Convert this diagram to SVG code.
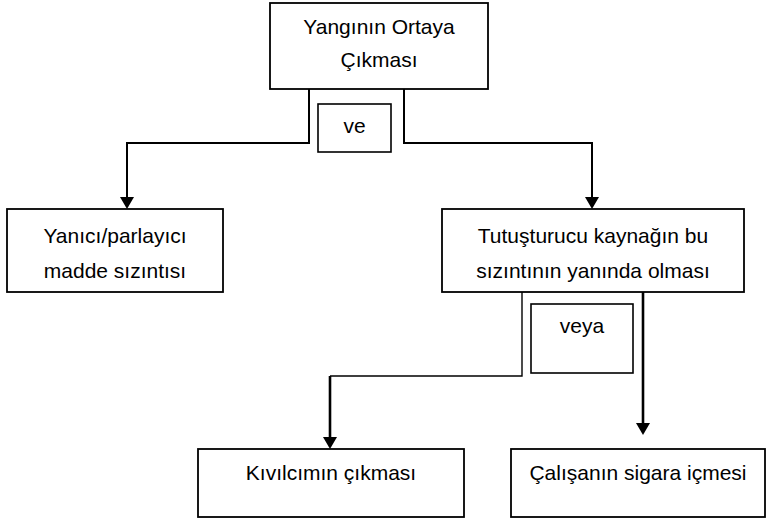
<svg xmlns="http://www.w3.org/2000/svg" width="767" height="519" viewBox="0 0 767 519">
<style>
.box{fill:#fff;stroke:#000;stroke-width:1.8}
.lbl{fill:#fff;stroke:#000;stroke-width:1.6}
.t{font-family:"Liberation Sans",Arial,sans-serif;font-size:21px;fill:#000;text-anchor:middle}
.c{fill:none;stroke:#000;stroke-width:2}
.thin{fill:none;stroke:#000;stroke-width:1.4}
.thick{fill:none;stroke:#000;stroke-width:2.6}
</style>
<defs>
<marker id="arr" viewBox="0 0 12 14" refX="6" refY="7" markerWidth="12" markerHeight="14" markerUnits="userSpaceOnUse" orient="auto">
<path d="M0,0 L12,7 L0,14 z" fill="#000"/>
</marker>
</defs>
<g id="connectors">
<path class="c" d="M309,89 V143 H127 V203" marker-end="url(#arr)"/>
<path class="c" d="M404,89 V143 H592 V203" marker-end="url(#arr)"/>
<path class="thin" d="M522,292 V376 H330"/>
<path class="thick" d="M330,376 V443" marker-end="url(#arr)"/>
<path class="thick" d="M643,292 V429" marker-end="url(#arr)"/>
</g>
<g id="n-top">
<rect class="box" x="270" y="3" width="218" height="86"/>
<text class="t" x="379" y="34">Yangının Ortaya</text>
<text class="t" x="379" y="67">Çıkması</text>
</g>
<g id="n-ve">
<rect class="lbl" x="318" y="104" width="73" height="48"/>
<text class="t" x="354.5" y="133">ve</text>
</g>
<g id="n-yanici">
<rect class="box" x="7" y="209" width="216" height="83"/>
<text class="t" x="115" y="243">Yanıcı/parlayıcı</text>
<text class="t" x="115" y="278">madde sızıntısı</text>
</g>
<g id="n-tutusturucu">
<rect class="box" x="442" y="209" width="302" height="83"/>
<text class="t" x="593" y="243">Tutuşturucu kaynağın bu</text>
<text class="t" x="593" y="278">sızıntının yanında olması</text>
</g>
<g id="n-veya">
<rect class="lbl" x="531" y="304" width="102" height="69"/>
<text class="t" x="582" y="333">veya</text>
</g>
<g id="n-kivilcim">
<rect class="box" x="198" y="449" width="266" height="68"/>
<text class="t" x="331" y="480">Kıvılcımın çıkması</text>
</g>
<g id="n-calisan">
<rect class="box" x="511" y="449" width="254" height="68"/>
<text class="t" x="638" y="480">Çalışanın sigara içmesi</text>
</g>
</svg>
